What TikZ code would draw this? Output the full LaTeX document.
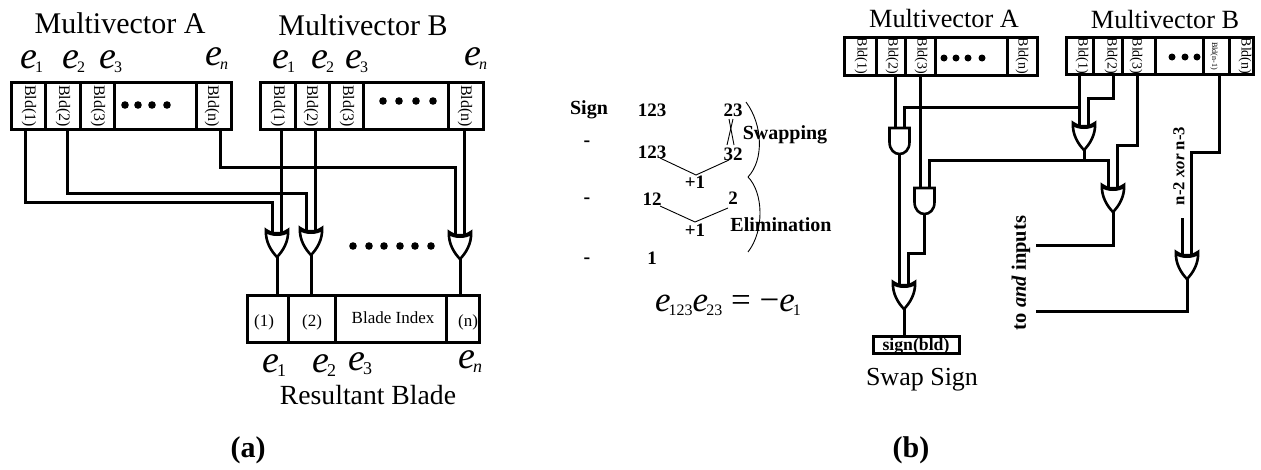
\documentclass[tikz,border=0pt]{standalone}
\usepackage{fontspec}
\setmainfont{Liberation Serif}
\usepackage{tikz}
\usetikzlibrary{calc, positioning}

\newcommand{\bladee}[2][16]{\textit{e}\kern-2pt\raisebox{-4pt}{\fontsize{#1}{#1}\selectfont #2}}

\tikzset{
  wire/.style={line width=3pt, line join=miter},
  thinline/.style={line width=0.9pt},
  cell/.style={draw, line width=3pt, inner sep=0pt, outer sep=0pt},
  lab/.style={font=\fontsize{#1}{#1}\selectfont, anchor=base, inner sep=0pt},
  blab/.style={font=\fontsize{#1}{#1}\selectfont\bfseries, anchor=base, inner sep=0pt},
  bld/.style={font=\fontsize{#1}{#1}\selectfont, rotate=-90, inner sep=0pt},
  elab/.style={font=\fontsize{38}{38}\selectfont, anchor=base west, inner sep=0pt},
  orgate/.pic={
    \draw[fill=white, line width=2.6pt] (-11,0) .. controls (-12,12) and (-5,22) .. (0,27)
      .. controls (5,22) and (12,12) .. (11,0) .. controls (6,5) and (-6,5) .. cycle;
    \draw[line width=4pt] (-10.5,1) .. controls (-6,5) and (6,5) .. (10.5,1);
    \coordinate (-a) at (-4.5,3);
    \coordinate (-b) at (4.5,3);
    \coordinate (-out) at (0,27);
  },
  andgate/.pic={
    \draw[fill=white, line width=2.6pt] (-10,0) -- (10,0) -- (10,14)
      .. controls (10,22) and (5,26) .. (0,26) .. controls (-5,26) and (-10,22) .. (-10,14) -- cycle;
    \coordinate (-a) at (-4.5,0);
    \coordinate (-b) at (4.5,0);
    \coordinate (-out) at (0,26);
  },
}

\begin{document}
\begin{tikzpicture}[x=1pt, y=-1pt]
\useasboundingbox (0,0) rectangle (1261,469);

% Registers
\foreach \nm/\xl/\xr/\yt/\yb in {
  A1/11/45/82/129, A2/45/80/82/129, A3/80/114/82/129, A4/114/196/82/129, A5/196/231/82/129,
  B1/260/295/82/129, B2/295/329/82/129, B3/329/363/82/129, B4/363/448/82/129, B5/448/483/82/129,
  R1/247/288/295/342, R2/288/335/295/342, R3/335/446/295/342, R4/446/479/295/342,
  aA1/844/876/37/75, aA2/876/905/37/75, aA3/905/935/37/75, aA4/935/1007/37/75, aA5/1007/1037/37/75,
  bB1/1066/1093/37/74, bB2/1093/1122/37/74, bB3/1122/1155/37/74, bB4/1155/1203/37/74, bB5/1203/1229/37/74, bB6/1229/1253/37/74,
  signbox/873/959/336/353} {
  \node[cell, minimum width={(\xr-\xl)*1pt}, minimum height={(\yb-\yt)*1pt}] (\nm) at ({(\xl+\xr)/2},{(\yt+\yb)/2}) {};
}

% Cell texts
\foreach \nm/\x/\txt in {t1/29/Bld(1), t2/63/Bld(2), t3/98/Bld(3), t4/212/Bld(n), t5/278/Bld(1), t6/311/Bld(2), t7/347/Bld(3), t8/465/Bld(n)} {
  \node[bld=16] (\nm) at (\x,106) {\txt};
}
\foreach \nm/\x/\txt in {u1/861/Bld(1), u2/892/Bld(2), u3/921/Bld(3), u4/1022/Bld(n), u5/1082/Bld(1), u6/1111/Bld(2), u7/1136/Bld(3), u8/1245/Bld(n)} {
  \node[bld=14] (\nm) at (\x,56) {\txt};
}
\node[bld=8] (u9) at (1214,56) {Bld(n-1)};
\foreach \nm/\x/\y/\txt in {r1/264/326/(1), r2/312/326/(2), r3/393/323/Blade Index, r4/468/326/(n)} {
  \node[lab=17] (\nm) at (\x,\y) {\txt};
}
\node[blab=17.7] (signtxt) at (916,350) {sign(bld)};

% Dots
\foreach \x in {125,138,152,167} \fill (\x,105) circle (3.8);
\foreach \x in {383,399,416,433} \fill (\x,101) circle (3.8);
\foreach \x in {353,369,384,400,415,431} \fill (\x,246) circle (3.8);
\foreach \x in {944,956,968,982} \fill (\x,58) circle (3.5);
\foreach \x in {1172,1185,1197} \fill (\x,57) circle (3.5);

% Titles
\node[lab=30] (titleA) at (120,33) {Multivector A};
\node[lab=30] (titleB) at (363,35) {Multivector B};
\node[lab=27.7] (result) at (368,404) {Resultant Blade};
\node[lab=26.3] (titleC) at (944,27) {Multivector A};
\node[lab=26.3] (titleD) at (1165,28) {Multivector B};
\node[lab=26] (swap) at (922,385) {Swap Sign};
\node[blab=30] (capa) at (248,457) {(a)};
\node[blab=30] (capb) at (911,457) {(b)};

% Basis labels
\foreach \nm/\x/\y/\s in {e1/20/68/1, e2/62/68/2, e3/99/68/3, e4/205/65/\textit{n}, e5/272/68/1, e6/311/68/2, e7/345/68/3, e8/464/65/\textit{n}} {
  \node[elab] (\nm) at (\x,\y) {\bladee{\s}};
}
\foreach \nm/\x/\y/\s in {f1/262/372/1, f2/312/372/2, f3/348/370/3, f4/458/368/\textit{n}} {
  \node[elab] (\nm) at (\x,\y) {\bladee[18]{\s}};
}

% Gates (a)
\pic (g1) at (277,230) {orgate};
\pic (g2) at (311,228) {orgate};
\pic (g3) at (460,232) {orgate};

\draw[wire] ([xshift=-3pt]A1.south) -- ++(0,73) -| (g1-a);
\draw[wire] ([xshift=4.5pt]A2.south) -- ++(0,64) -| (g2-a);
\draw[wire] ([xshift=6.5pt]A5.south) -- ++(0,38) -| (g3-a);
\draw[wire] (B1.south -| g1-b) -- (g1-b);
\draw[wire] (B2.south -| g2-b) -- (g2-b);
\draw[wire] (B5.south -| g3-b) -- (g3-b);
\draw[wire] (g1-out) -- (g1-out |- R1.north);
\draw[wire] (g2-out) -- (g2-out |- R2.north);
\draw[wire] (g3-out) -- (g3-out |- R4.north);

% Sign table
\node[blab=20] (sign) at (589,114) {Sign};
\foreach \nm/\y in {m1/146, m2/203, m3/263} {
  \node[blab=20] (\nm) at (587,\y) {-};
}
\foreach \nm/\x/\y/\txt in {n1/652/116/123, n2/733/116/23, n3/652/158/123, n4/733/160/32, n5/652/205/12, n6/733/204/2, n7/652/264/1, p1/695/188/+1, p2/695/236/+1} {
  \node[blab=19] (\nm) at (\x,\y) {\txt};
}
\node[blab=20] (swapping) at (785,139) {Swapping};
\node[blab=20] (elim) at (781,231) {Elimination};

\coordinate (x1) at (729,119);
\coordinate (x2) at (734,145);
\coordinate (x3) at (733,119);
\coordinate (x4) at (727,145);
\draw[thinline] (x1) -- (x2);
\draw[thinline] (x3) -- (x4);
\coordinate (v1) at (660,158);
\coordinate (v2) at (696,175);
\coordinate (v3) at (729,160);
\draw[thinline] (v1) -- (v2) -- (v3);
\coordinate (v4) at (660,206);
\coordinate (v5) at (695,222);
\coordinate (v6) at (728,208);
\draw[thinline] (v4) -- (v5) -- (v6);
\coordinate (b1) at (746,102);
\coordinate (b2) at (748,177);
\coordinate (b3) at (748,252);
\draw[thinline] (b1) .. controls (763,125) and (764,160) .. (b2);
\draw[thinline] (b2) .. controls (763,192) and (765,230) .. (b3);

\node[font=\fontsize{35}{35}\selectfont, anchor=base west, inner sep=0pt] (eqn) at (655,311)
  {\bladee{123}\bladee{23} = −\bladee{1}};

% Gates (b)
\pic (and1) at (899.5,128) {andgate};
\pic (and2) at (924.5,188) {andgate};
\pic (or1) at (1084,123) {orgate};
\pic (or2) at (1113,185) {orgate};
\pic (or3) at (1187,252) {orgate};
\pic (or4) at (904,282) {orgate};

\coordinate (tap) at (1079.5,107);
\coordinate (rail) at (1000,160);
\coordinate (toand) at (1036,245);
\coordinate (xorend) at (1036,311);
\coordinate (nxor) at (1182.5,218);

\draw[wire] (aA2.south -| and1-a) -- (and1-a);
\draw[wire] (aA3.south -| and2-a) -- (and2-a);
\draw[wire] (and1-b) |- (tap);
\draw[wire] (bB1.south -| or1-a) -- (or1-a);
\draw[wire] ([xshift=5.5pt]bB2.south) -- ++(0,24) -| (or1-b);
\draw[wire] ([xshift=-1.5pt]bB3.south) -- ++(0,71) -| (or2-b);
\draw[wire] ([xshift=3pt]bB5.south) -- ++(0,78) -| (or3-b);
\draw[wire] (and2-b) |- (rail) -| (or2-a);
\draw[wire] (or1-out) -- (or1-out |- rail);
\draw[wire] (or2-out) |- (toand);
\draw[wire] (or3-out) |- (xorend);
\draw[wire] (nxor) -- (or3-a);
\draw[wire] (and1-out) -- (or4-a);
\draw[wire] (and2-out) -- ++(0,39) -| (or4-b);
\draw[wire] (or4-out) -- (or4-out |- signbox.north);

\node[font=\fontsize{20.5}{20.5}\selectfont\bfseries, rotate=90, inner sep=0pt] (andin) at (1021,273) {to \textit{and} inputs};
\node[font=\fontsize{16.7}{16.7}\selectfont\bfseries, rotate=90, inner sep=0pt] (xorin) at (1179,166) {n-2 \textit{xor} n-3};
\end{tikzpicture}
\end{document}
